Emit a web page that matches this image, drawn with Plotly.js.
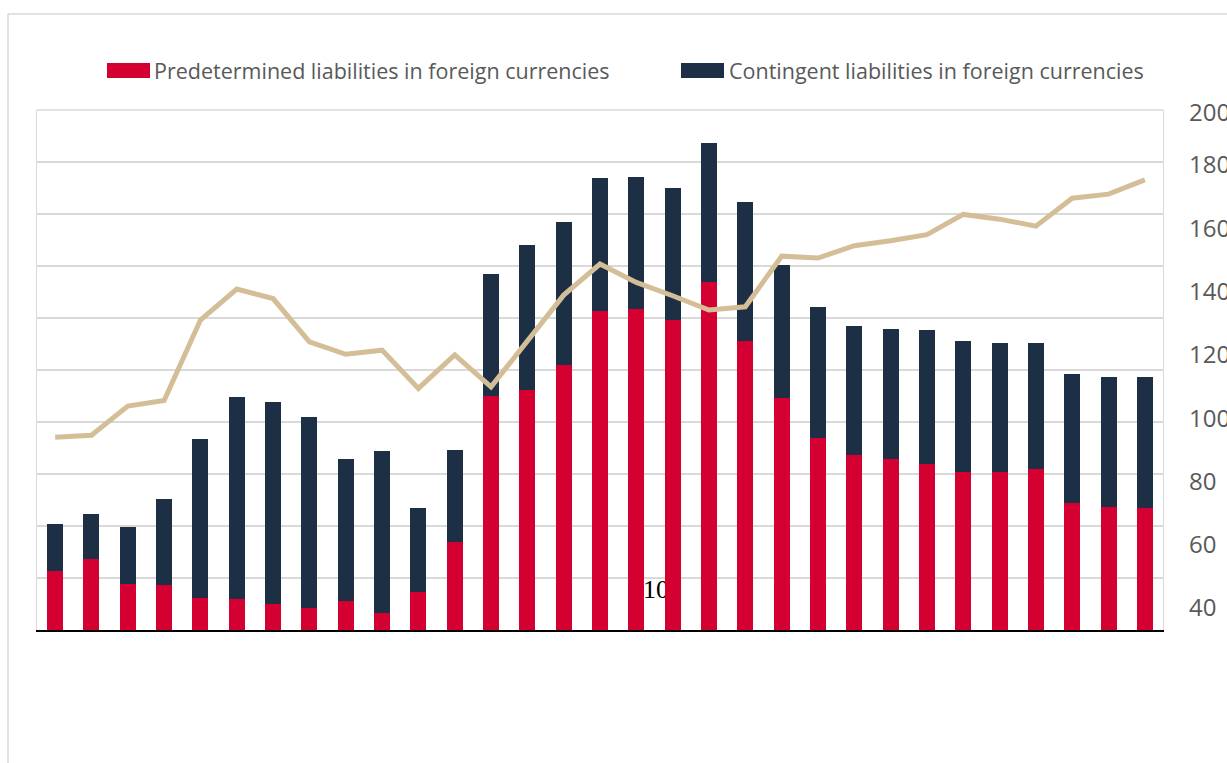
<!DOCTYPE html>
<html>
<head>
<meta charset="utf-8">
<script src="https://cdn.plot.ly/plotly-3.0.1.min.js"></script>
<style>
  html, body { margin: 0; padding: 0; background: #ffffff; }
  #chart { width: 1227px; height: 763px; }
</style>
</head>
<body>
<div id="chart"></div>
<script>
// Period index (no x tick labels shown in the reference)
const periods = [1,2,3,4,5,6,7,8,9,10,11,12,13,14,15,16,17,18,19,20,21,22,23,24,25,26,27,28,29,30,31];

// Predetermined liabilities in foreign currencies (red, left axis)
const predetermined = [22.7,27.2,17.8,17.3,12.2,11.8,10.0,8.3,11.2,6.7,14.7,34.0,89.9,92.4,101.9,122.8,123.5,119.2,133.8,111.2,89.1,74.0,67.3,65.7,64.0,60.9,60.8,61.8,48.7,47.4,47.0];

// Contingent liabilities in foreign currencies (navy, stacked on top)
const contingent = [18.1,17.5,21.9,33.1,61.4,77.9,77.6,73.5,54.7,62.1,32.3,35.2,47.1,55.6,55.1,50.9,50.7,50.8,53.6,53.3,51.4,50.1,49.5,50.2,51.5,50.1,49.7,48.7,49.6,50.0,50.2];

// Tan line (right axis)
const lineSeries = [94.0,94.6,103.8,105.6,131.0,140.8,137.8,124.1,120.2,121.5,109.4,120.0,109.9,124.5,138.9,148.7,142.9,138.7,134.2,135.2,151.2,150.6,154.5,156.1,158.0,164.4,162.9,160.7,169.5,170.8,175.3];

// Right axis tick labels
const rightTickText = ['40','60','80','100','120','140','160','180','200'];
const rightTickVals = [40,60,80,100,120,140,160,180,196.6];

// Stray label drawn behind the bars
const strayText = ['10'];
const strayX = [17.54];
const strayY = [15];

const legendNames = ['Predetermined liabilities in foreign currencies', 'Contingent liabilities in foreign currencies'];

const RED = '#D50032';
const NAVY = '#1C2F45';
const TAN = '#D4BE98';

const traces = [
  {
    type: 'scatter', mode: 'text', x: strayX, y: strayY, text: strayText,
    textfont: { family: 'Liberation Serif, serif', size: 26, color: '#000000' },
    xaxis: 'x', yaxis: 'y', hoverinfo: 'skip', showlegend: false
  },
  {
    type: 'bar', name: legendNames[0], x: periods, y: predetermined,
    marker: { color: RED }, xaxis: 'x', yaxis: 'y2', width: 0.44, showlegend: false
  },
  {
    type: 'bar', name: legendNames[1], x: periods, y: contingent,
    marker: { color: NAVY }, xaxis: 'x', yaxis: 'y2', width: 0.44, showlegend: false
  },
  {
    type: 'scatter', mode: 'lines', x: periods, y: lineSeries,
    line: { color: TAN, width: 5 }, xaxis: 'x', yaxis: 'y3', showlegend: false
  }
];

// pixel helpers for paper coordinates (plot area: x 37..1163, y 110..630)
const px = v => (v - 37) / 1126;
const py = v => (630 - v) / 520;

const layout = {
  width: 1227, height: 763,
  margin: { l: 37, r: 64, t: 110, b: 133 },
  paper_bgcolor: '#ffffff', plot_bgcolor: '#ffffff',
  barmode: 'stack',
  showlegend: false,
  font: { family: 'Open Sans, sans-serif', color: '#595959' },
  xaxis: {
    range: [0.5, 31.5], showticklabels: false, ticks: '', showgrid: false, zeroline: false,
    showline: true, linecolor: '#000000', linewidth: 2, mirror: false
  },
  yaxis: {
    range: [0, 200], dtick: 20, showticklabels: false, ticks: '',
    showgrid: true, gridcolor: '#d9d9d9', gridwidth: 1.3, zeroline: false,
    showline: true, linecolor: '#d9d9d9', linewidth: 1.3, mirror: true
  },
  yaxis2: {
    range: [0, 200], overlaying: 'y', showticklabels: false, ticks: '',
    showgrid: false, zeroline: false, showline: false
  },
  yaxis3: {
    range: [33.05, 197.4], overlaying: 'y', side: 'right',
    tickmode: 'array', tickvals: rightTickVals, ticktext: rightTickText,
    ticks: '', ticklabelstandoff: 25,
    tickfont: { family: 'Open Sans, sans-serif', size: 24, color: '#595959' },
    showgrid: false, zeroline: false, showline: false
  },
  shapes: [
    // outer frame
    { type: 'line', xref: 'paper', yref: 'paper', x0: px(8), x1: px(8), y0: py(14), y1: py(770),
      line: { color: '#d9d9d9', width: 1.5 } },
    { type: 'line', xref: 'paper', yref: 'paper', x0: px(8), x1: px(1240), y0: py(14), y1: py(14),
      line: { color: '#d9d9d9', width: 1.5 } },
    // plot-area top border
    { type: 'line', xref: 'paper', yref: 'paper', x0: 0, x1: 1, y0: 1, y1: 1,
      line: { color: '#d9d9d9', width: 1.3 } },
    // legend swatches
    { type: 'rect', xref: 'paper', yref: 'paper', x0: px(107), x1: px(150), y0: py(78), y1: py(63),
      fillcolor: RED, line: { width: 0 } },
    { type: 'rect', xref: 'paper', yref: 'paper', x0: px(681), x1: px(724), y0: py(78), y1: py(63),
      fillcolor: NAVY, line: { width: 0 } }
  ],
  annotations: [
    { xref: 'paper', yref: 'paper', x: px(152), y: py(70.5), xanchor: 'left', yanchor: 'middle',
      text: legendNames[0], showarrow: false,
      font: { family: 'Open Sans, sans-serif', size: 21.5, color: '#595959' } },
    { xref: 'paper', yref: 'paper', x: px(727), y: py(70.5), xanchor: 'left', yanchor: 'middle',
      text: legendNames[1], showarrow: false,
      font: { family: 'Open Sans, sans-serif', size: 21.5, color: '#595959' } }
  ]
};

Plotly.newPlot('chart', traces, layout, { displayModeBar: false, staticPlot: true });
</script>
</body>
</html>
